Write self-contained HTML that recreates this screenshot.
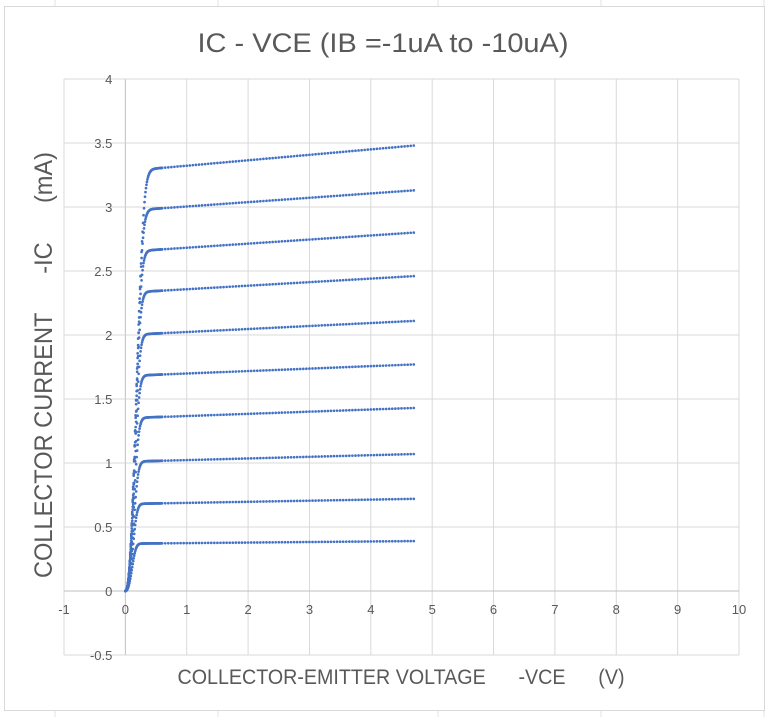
<!DOCTYPE html>
<html><head><meta charset="utf-8"><style>
html,body{margin:0;padding:0;background:#fff;}
svg{display:block;font-family:"Liberation Sans",sans-serif;}
text{white-space:pre;}
</style></head><body>
<svg id="chart" width="769" height="717" viewBox="0 0 769 717" xmlns="http://www.w3.org/2000/svg">
<g id="sheet"></g>
<rect x="4.5" y="6.5" width="760" height="704" fill="#fff" stroke="#d9d9d9"/>
<text x="383" y="52" text-anchor="middle" font-size="27" fill="#595959" textLength="371" lengthAdjust="spacingAndGlyphs">IC - VCE (IB =-1uA to -10uA)</text>
<g id="grid"></g>
<g id="ticks"></g>
<g id="pts"></g>
<text transform="translate(52,365) rotate(-90)" text-anchor="middle" font-size="25" fill="#595959" textLength="426" lengthAdjust="spacingAndGlyphs" xml:space="preserve">COLLECTOR CURRENT      -IC      (mA)</text>
<text x="401" y="684" text-anchor="middle" font-size="21" fill="#595959" textLength="447" lengthAdjust="spacingAndGlyphs" xml:space="preserve">COLLECTOR-EMITTER VOLTAGE      -VCE      (V)</text>
</svg>
<script>
const xTicks=[-1,0,1,2,3,4,5,6,7,8,9,10];
const yTicks=[-0.5,0,0.5,1,1.5,2,2.5,3,3.5,4];
const yTickLabels=["-0.5","0","0.5","1","1.5","2","2.5","3","3.5","4"];
// per-curve data (IB = -1uA .. -10uA)
const satCurrent=[0.37,0.68,1.01,1.35,1.68,2.0,2.33,2.65,2.97,3.28];
const endCurrent=[0.39,0.72,1.07,1.43,1.77,2.11,2.46,2.80,3.13,3.48];
const kneeVoltage=[0.21,0.23,0.25,0.26,0.27,0.28,0.29,0.31,0.33,0.36];
const vceMax=4.7;

const X0=64,X1=739,Y0=655,Y1=79;
const xs=v=>X0+(v+1)/11*(X1-X0);
const ys=v=>Y0-(v+0.5)/4.5*(Y0-Y1);
const NS="http://www.w3.org/2000/svg";
function mk(tag,parent,attrs){const e=document.createElementNS(NS,tag);for(const k in attrs)e.setAttribute(k,attrs[k]);parent.appendChild(e);return e;}

const sheet=document.getElementById('sheet');
[55,218,438,601,764].forEach(x=>{const l=mk('line',sheet,{x1:x,x2:x,y1:0,y2:717,stroke:'#e3e3e3'});

});

const grid=document.getElementById('grid');
xTicks.forEach(t=>{const l=mk('line',grid,{x1:xs(t),x2:xs(t),y1:Y1,y2:Y0,stroke:t===0?'#bfbfbf':'#d9d9d9','stroke-width':1});

});
yTicks.forEach(t=>{const l=mk('line',grid,{x1:X0,x2:X1,y1:ys(t),y2:ys(t),stroke:t===0?'#bfbfbf':'#d9d9d9','stroke-width':1});

});

const ticks=document.getElementById('ticks');
xTicks.forEach(t=>{const e=mk('text',ticks,{x:xs(t),y:ys(0)+23,'text-anchor':'middle','font-size':13,fill:'#595959'});e.textContent=String(t);

});
yTicks.forEach((t,i)=>{const e=mk('text',ticks,{x:xs(0)-13,y:ys(t)+5,'text-anchor':'end','font-size':13,fill:'#595959'});e.textContent=yTickLabels[i];

});

const pts=document.getElementById('pts');
satCurrent.forEach((isat,i)=>{
  const iend=endCurrent[i],vk=kneeVoltage[i];
  const g=mk('g',pts,{fill:'#4472c4'});
  
  
  const vs=[];
  for(let v=0;v<0.6;v+=0.008)vs.push(v);
  for(let v=0.6;v<=vceMax+1e-9;v+=0.05)vs.push(v);
  vs.forEach(v=>{
    const base=isat+(iend-isat)*Math.min(1,v/vceMax);
    const ic=base*Math.tanh(Math.pow(v/vk,2.2)*2.2);
    mk('circle',g,{cx:xs(v).toFixed(2),cy:ys(ic).toFixed(2),r:1.35});
  });
});
</script>
</body></html>
